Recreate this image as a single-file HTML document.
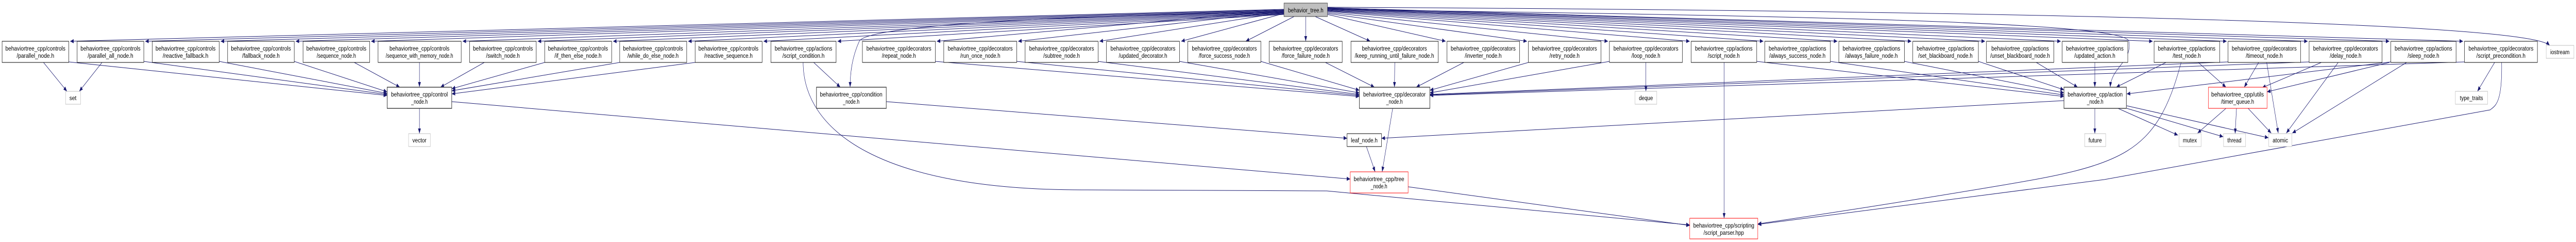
<!DOCTYPE html>
<html><head><meta charset="utf-8"><style>
html,body{margin:0;padding:0;background:#fff;width:100%;height:100%;overflow:hidden;}
svg{display:block;position:absolute;left:0;top:0;}
text{font-family:"Liberation Sans",sans-serif;font-size:12px;fill:#000;text-anchor:middle;}
.e{fill:none;stroke:#191970;stroke-width:1;marker-end:url(#a);}
.n{fill:#fff;stroke:#000;stroke-width:1;}
.g{fill:#fff;stroke:#bfbfbf;stroke-width:1;}
.r{fill:#fff;stroke:#ff0000;stroke-width:1;}
.d{fill:#fff;stroke:#404040;stroke-width:1.5;}
</style></head><body>
<svg width="100%" height="100%" viewBox="0 0 7345 469" preserveAspectRatio="none" xmlns="http://www.w3.org/2000/svg">
<defs><marker id="a" markerWidth="10" markerHeight="8" refX="10" refY="4" orient="auto" markerUnits="userSpaceOnUse"><path d="M0,0 L10,4 L0,8 z" fill="#191970"/></marker></defs>

<g>
<path class="e" d="M3661,18 L200,80"/>
<path class="e" d="M3661,19 L414,80"/>
<path class="e" d="M3661,20 L629,80"/>
<path class="e" d="M3661,21 L843,80"/>
<path class="e" d="M3661,22 L1058,80"/>
<path class="e" d="M3661,23 L1319,80"/>
<path class="e" d="M3661,24 L1533,80"/>
<path class="e" d="M3661,25 L1748,80"/>
<path class="e" d="M3661,26 L1962,80"/>
<path class="e" d="M3661,27 L2177,80"/>
<path class="e" d="M3661,28 L2388,80"/>
<path class="e" d="M3661,24 C3000,30 2470,50 2450,80 S2424,140 2424,169"/>
<path class="e" d="M3661,20 L2671,80"/>
<path class="e" d="M3661,22 L2903,80"/>
<path class="e" d="M3661,24 L3135,80"/>
<path class="e" d="M3661,26 L3368,80"/>
<path class="e" d="M3690,32 L3552,80"/>
<path class="e" d="M3723,32 L3723,80"/>
<path class="e" d="M3750,32 L3907,80"/>
<path class="e" d="M3785,28 L4122,80"/>
<path class="e" d="M3785,26 L4354,80"/>
<path class="e" d="M3785,24 L4585,80"/>
<path class="e" d="M3785,22 L4818,80"/>
<path class="e" d="M3785,21 L5028,80"/>
<path class="e" d="M3785,20 L5239,80"/>
<path class="e" d="M3785,19 L5450,80"/>
<path class="e" d="M3785,18 L5660,80"/>
<path class="e" d="M3785,17 L5876,80"/>
<path class="e" d="M3785,18 C5000,30 6060,40 6070,80 S6020,130 6017,169"/>
<path class="e" d="M3785,17 L6138,80"/>
<path class="e" d="M3785,16 L6349,80"/>
<path class="e" d="M3785,16 L6580,80"/>
<path class="e" d="M3785,15 L6813,80"/>
<path class="e" d="M3785,15 L7023,80"/>
<path class="e" d="M3785,14 C5500,20 7200,40 7270,88"/>
</g>

<g>
<path class="e" d="M124,121 L191,177"/>
<path class="e" d="M291,121 L226,177"/>
<path class="e" d="M196,120 L1104,185"/>
<path class="e" d="M410,119 L1104,183"/>
<path class="e" d="M625,119 L1104,181"/>
<path class="e" d="M839,119 L1104,178"/>
<path class="e" d="M1010,121 L1140,169"/>
<path class="e" d="M1196,121 L1196,169"/>
<path class="e" d="M1381,121 L1256,169"/>
<path class="e" d="M1553,121 L1288,172"/>
<path class="e" d="M1767,121 L1288,176"/>
<path class="e" d="M1982,121 L1288,182"/>
<path class="e" d="M1196,210 L1196,259"/>
<path class="e" d="M1288,197 L3850,347"/>
<path class="e" d="M2320,121 L2396,169"/>
<path class="e" d="M2290,121 C2290,250 2500,370 3100,368 L3783,370 L4818,436"/>
<path class="e" d="M2527,197 L3841,268"/>
</g>

<g>
<path class="e" d="M2667,119 L3876,187"/>
<path class="e" d="M2899,119 L3876,185"/>
<path class="e" d="M3131,119 L3876,183"/>
<path class="e" d="M3363,119 L3876,180"/>
<path class="e" d="M3595,119 L3876,175"/>
<path class="e" d="M3779,121 L3919,169"/>
<path class="e" d="M3977,121 L3976,169"/>
<path class="e" d="M4174,121 L4038,169"/>
<path class="e" d="M4358,121 L4077,175"/>
<path class="e" d="M4589,119 L4077,180"/>
<path class="e" d="M4693,121 L4693,177"/>
<path class="e" d="M6353,120 L4077,183"/>
<path class="e" d="M6584,120 L4077,184"/>
<path class="e" d="M7027,120 L4077,185"/>
<path class="e" d="M3971,210 L3941,333"/>
<path class="e" d="M3896,284 L3921,333"/>
<path class="e" d="M4015,362 L4818,437"/>
</g>

<g>
<path class="e" d="M4916,121 L4916,423"/>
<path class="e" d="M5009,119 L5885,187"/>
<path class="e" d="M5219,119 L5885,184"/>
<path class="e" d="M5430,119 L5885,180"/>
<path class="e" d="M5641,119 L5885,174"/>
<path class="e" d="M5806,121 L5924,169"/>
<path class="e" d="M5973,121 L5973,169"/>
<path class="e" d="M6176,121 L6034,169"/>
<path class="e" d="M6817,120 L6064,182"/>
<path class="e" d="M5885,195 L3939,268"/>
<path class="e" d="M5973,210 L5973,259"/>
<path class="e" d="M6039,210 L6210,262"/>
<path class="e" d="M6064,210 L6339,265"/>
<path class="e" d="M6064,205 L6468,267"/>
<path class="e" d="M6219,121 C6150,300 6050,320 5700,360 S5100,425 5012,434"/>
<path class="e" d="M7133,121 C7135,200 7115,205 7100,213 L6000,348 L5012,435"/>
<path class="e" d="M6268,121 L6347,169"/>
<path class="e" d="M6440,121 L6399,169"/>
<path class="e" d="M6463,121 L6496,258"/>
<path class="e" d="M6619,121 L6450,170"/>
<path class="e" d="M6667,121 L6519,258"/>
<path class="e" d="M6813,121 L6464,178"/>
<path class="e" d="M6862,121 L6536,258"/>
<path class="e" d="M7113,121 L7064,177"/>
<path class="e" d="M6347,210 L6266,258"/>
<path class="e" d="M6377,210 L6373,259"/>
<path class="e" d="M6410,210 L6476,258"/>
</g>

<rect x="3661" y="6" width="124" height="26" fill="#bfbfbf" stroke="#404040"/>
<text x="3723" y="24" textLength="101" lengthAdjust="spacingAndGlyphs">behavior_tree.h</text>

<g>
<rect class="n" x="6" y="80" width="190" height="41"/><text x="101" y="98" textLength="171" lengthAdjust="spacingAndGlyphs">behaviortree_cpp/controls</text><text x="101" y="112" textLength="107" lengthAdjust="spacingAndGlyphs">/parallel_node.h</text>
<rect class="n" x="220" y="80" width="190" height="41"/><text x="315" y="98" textLength="171" lengthAdjust="spacingAndGlyphs">behaviortree_cpp/controls</text><text x="315" y="112" textLength="130" lengthAdjust="spacingAndGlyphs">/parallel_all_node.h</text>
<rect class="n" x="434" y="80" width="191" height="41"/><text x="529" y="98" textLength="171" lengthAdjust="spacingAndGlyphs">behaviortree_cpp/controls</text><text x="529" y="112" textLength="130" lengthAdjust="spacingAndGlyphs">/reactive_fallback.h</text>
<rect class="n" x="649" y="80" width="190" height="41"/><text x="744" y="98" textLength="171" lengthAdjust="spacingAndGlyphs">behaviortree_cpp/controls</text><text x="744" y="112" textLength="107" lengthAdjust="spacingAndGlyphs">/fallback_node.h</text>
<rect class="n" x="864" y="80" width="190" height="41"/><text x="959" y="98" textLength="171" lengthAdjust="spacingAndGlyphs">behaviortree_cpp/controls</text><text x="959" y="112" textLength="112" lengthAdjust="spacingAndGlyphs">/sequence_node.h</text>
<rect class="n" x="1078" y="80" width="237" height="41"/><text x="1196" y="98" textLength="171" lengthAdjust="spacingAndGlyphs">behaviortree_cpp/controls</text><text x="1196" y="112" textLength="192" lengthAdjust="spacingAndGlyphs">/sequence_with_memory_node.h</text>
<rect class="n" x="1339" y="80" width="190" height="41"/><text x="1434" y="98" textLength="171" lengthAdjust="spacingAndGlyphs">behaviortree_cpp/controls</text><text x="1434" y="112" textLength="96" lengthAdjust="spacingAndGlyphs">/switch_node.h</text>
<rect class="n" x="1553" y="80" width="191" height="41"/><text x="1648" y="98" textLength="171" lengthAdjust="spacingAndGlyphs">behaviortree_cpp/controls</text><text x="1648" y="112" textLength="134" lengthAdjust="spacingAndGlyphs">/if_then_else_node.h</text>
<rect class="n" x="1767" y="80" width="191" height="41"/><text x="1862" y="98" textLength="171" lengthAdjust="spacingAndGlyphs">behaviortree_cpp/controls</text><text x="1862" y="112" textLength="146" lengthAdjust="spacingAndGlyphs">/while_do_else_node.h</text>
<rect class="n" x="1982" y="80" width="191" height="41"/><text x="2077" y="98" textLength="171" lengthAdjust="spacingAndGlyphs">behaviortree_cpp/controls</text><text x="2077" y="112" textLength="138" lengthAdjust="spacingAndGlyphs">/reactive_sequence.h</text>
<rect class="n" x="2198" y="80" width="186" height="41"/><text x="2291" y="98" textLength="164" lengthAdjust="spacingAndGlyphs">behaviortree_cpp/actions</text><text x="2291" y="112" textLength="120" lengthAdjust="spacingAndGlyphs">/script_condition.h</text>
<rect class="n" x="2459" y="80" width="208" height="41"/><text x="2563" y="98" textLength="185" lengthAdjust="spacingAndGlyphs">behaviortree_cpp/decorators</text><text x="2563" y="112" textLength="97" lengthAdjust="spacingAndGlyphs">/repeat_node.h</text>
<rect class="n" x="2691" y="80" width="208" height="41"/><text x="2795" y="98" textLength="185" lengthAdjust="spacingAndGlyphs">behaviortree_cpp/decorators</text><text x="2795" y="112" textLength="114" lengthAdjust="spacingAndGlyphs">/run_once_node.h</text>
<rect class="n" x="2923" y="80" width="208" height="41"/><text x="3027" y="98" textLength="185" lengthAdjust="spacingAndGlyphs">behaviortree_cpp/decorators</text><text x="3027" y="112" textLength="104" lengthAdjust="spacingAndGlyphs">/subtree_node.h</text>
<rect class="n" x="3155" y="80" width="208" height="41"/><text x="3259" y="98" textLength="185" lengthAdjust="spacingAndGlyphs">behaviortree_cpp/decorators</text><text x="3259" y="112" textLength="138" lengthAdjust="spacingAndGlyphs">/updated_decorator.h</text>
<rect class="n" x="3387" y="80" width="208" height="41"/><text x="3491" y="98" textLength="185" lengthAdjust="spacingAndGlyphs">behaviortree_cpp/decorators</text><text x="3491" y="112" textLength="146" lengthAdjust="spacingAndGlyphs">/force_success_node.h</text>
<rect class="n" x="3619" y="80" width="208" height="41"/><text x="3723" y="98" textLength="185" lengthAdjust="spacingAndGlyphs">behaviortree_cpp/decorators</text><text x="3723" y="112" textLength="137" lengthAdjust="spacingAndGlyphs">/force_failure_node.h</text>
<rect class="n" x="3852" y="80" width="249" height="41"/><text x="3976" y="98" textLength="185" lengthAdjust="spacingAndGlyphs">behaviortree_cpp/decorators</text><text x="3976" y="112" textLength="226" lengthAdjust="spacingAndGlyphs">/keep_running_until_failure_node.h</text>
<rect class="n" x="4126" y="80" width="207" height="41"/><text x="4229" y="98" textLength="185" lengthAdjust="spacingAndGlyphs">behaviortree_cpp/decorators</text><text x="4229" y="112" textLength="105" lengthAdjust="spacingAndGlyphs">/inverter_node.h</text>
<rect class="n" x="4358" y="80" width="207" height="41"/><text x="4461" y="98" textLength="185" lengthAdjust="spacingAndGlyphs">behaviortree_cpp/decorators</text><text x="4461" y="112" textLength="86" lengthAdjust="spacingAndGlyphs">/retry_node.h</text>
<rect class="n" x="4589" y="80" width="208" height="41"/><text x="4693" y="98" textLength="185" lengthAdjust="spacingAndGlyphs">behaviortree_cpp/decorators</text><text x="4693" y="112" textLength="82" lengthAdjust="spacingAndGlyphs">/loop_node.h</text>
<rect class="n" x="4822" y="80" width="187" height="41"/><text x="4915" y="98" textLength="164" lengthAdjust="spacingAndGlyphs">behaviortree_cpp/actions</text><text x="4915" y="112" textLength="91" lengthAdjust="spacingAndGlyphs">/script_node.h</text>
<rect class="n" x="5032" y="80" width="187" height="41"/><text x="5125" y="98" textLength="164" lengthAdjust="spacingAndGlyphs">behaviortree_cpp/actions</text><text x="5125" y="112" textLength="160" lengthAdjust="spacingAndGlyphs">/always_success_node.h</text>
<rect class="n" x="5243" y="80" width="187" height="41"/><text x="5336" y="98" textLength="164" lengthAdjust="spacingAndGlyphs">behaviortree_cpp/actions</text><text x="5336" y="112" textLength="150" lengthAdjust="spacingAndGlyphs">/always_failure_node.h</text>
<rect class="n" x="5454" y="80" width="187" height="41"/><text x="5547" y="98" textLength="164" lengthAdjust="spacingAndGlyphs">behaviortree_cpp/actions</text><text x="5547" y="112" textLength="155" lengthAdjust="spacingAndGlyphs">/set_blackboard_node.h</text>
<rect class="n" x="5664" y="80" width="192" height="41"/><text x="5760" y="98" textLength="164" lengthAdjust="spacingAndGlyphs">behaviortree_cpp/actions</text><text x="5760" y="112" textLength="170" lengthAdjust="spacingAndGlyphs">/unset_blackboard_node.h</text>
<rect class="n" x="5880" y="80" width="187" height="41"/><text x="5973" y="98" textLength="164" lengthAdjust="spacingAndGlyphs">behaviortree_cpp/actions</text><text x="5973" y="112" textLength="117" lengthAdjust="spacingAndGlyphs">/updated_action.h</text>
<rect class="n" x="6142" y="80" width="187" height="41"/><text x="6235" y="98" textLength="164" lengthAdjust="spacingAndGlyphs">behaviortree_cpp/actions</text><text x="6235" y="112" textLength="80" lengthAdjust="spacingAndGlyphs">/test_node.h</text>
<rect class="n" x="6353" y="80" width="207" height="41"/><text x="6456" y="98" textLength="185" lengthAdjust="spacingAndGlyphs">behaviortree_cpp/decorators</text><text x="6456" y="112" textLength="105" lengthAdjust="spacingAndGlyphs">/timeout_node.h</text>
<rect class="n" x="6584" y="80" width="208" height="41"/><text x="6688" y="98" textLength="185" lengthAdjust="spacingAndGlyphs">behaviortree_cpp/decorators</text><text x="6688" y="112" textLength="90" lengthAdjust="spacingAndGlyphs">/delay_node.h</text>
<rect class="n" x="6817" y="80" width="186" height="41"/><text x="6910" y="98" textLength="164" lengthAdjust="spacingAndGlyphs">behaviortree_cpp/actions</text><text x="6910" y="112" textLength="90" lengthAdjust="spacingAndGlyphs">/sleep_node.h</text>
<rect class="n" x="7027" y="80" width="208" height="41"/><text x="7131" y="98" textLength="185" lengthAdjust="spacingAndGlyphs">behaviortree_cpp/decorators</text><text x="7131" y="112" textLength="140" lengthAdjust="spacingAndGlyphs">/script_precondition.h</text>
<rect class="g" x="7260" y="88" width="79" height="25"/><text x="7299" y="105" textLength="55" lengthAdjust="spacingAndGlyphs">iostream</text>
</g>

<g>
<rect class="g" x="187" y="177" width="43" height="25"/><text x="208" y="194" textLength="20" lengthAdjust="spacingAndGlyphs">set</text>
<rect class="d" x="1104" y="169" width="184" height="41"/><text x="1196" y="187" textLength="162" lengthAdjust="spacingAndGlyphs">behaviortree_cpp/control</text><text x="1196" y="201" textLength="47" lengthAdjust="spacingAndGlyphs">_node.h</text>
<rect class="d" x="2328" y="169" width="199" height="41"/><text x="2427" y="187" textLength="178" lengthAdjust="spacingAndGlyphs">behaviortree_cpp/condition</text><text x="2427" y="201" textLength="47" lengthAdjust="spacingAndGlyphs">_node.h</text>
<rect class="d" x="3876" y="169" width="201" height="41"/><text x="3976" y="187" textLength="178" lengthAdjust="spacingAndGlyphs">behaviortree_cpp/decorator</text><text x="3976" y="201" textLength="47" lengthAdjust="spacingAndGlyphs">_node.h</text>
<rect class="g" x="4662" y="177" width="62" height="25"/><text x="4693" y="194" textLength="40" lengthAdjust="spacingAndGlyphs">deque</text>
<rect class="d" x="5885" y="169" width="178" height="41"/><text x="5974" y="187" textLength="157" lengthAdjust="spacingAndGlyphs">behaviortree_cpp/action</text><text x="5974" y="201" textLength="47" lengthAdjust="spacingAndGlyphs">_node.h</text>
<rect class="r" x="6297" y="169" width="167" height="41"/><text x="6380" y="187" textLength="150" lengthAdjust="spacingAndGlyphs">behaviortree_cpp/utils</text><text x="6380" y="201" textLength="94" lengthAdjust="spacingAndGlyphs">/timer_queue.h</text>
<rect class="g" x="7001" y="177" width="92" height="25"/><text x="7047" y="194" textLength="66" lengthAdjust="spacingAndGlyphs">type_traits</text>
</g>

<g>
<rect class="g" x="1165" y="259" width="62" height="25"/><text x="1196" y="276" textLength="40" lengthAdjust="spacingAndGlyphs">vector</text>
<rect class="n" x="3841" y="259" width="98" height="25"/><text x="3890" y="276" textLength="76" lengthAdjust="spacingAndGlyphs">leaf_node.h</text>
<rect class="g" x="5944" y="259" width="60" height="25"/><text x="5974" y="276" textLength="38" lengthAdjust="spacingAndGlyphs">future</text>
<rect class="g" x="6213" y="259" width="63" height="25"/><text x="6244" y="276" textLength="40" lengthAdjust="spacingAndGlyphs">mutex</text>
<rect class="g" x="6340" y="259" width="63" height="25"/><text x="6371" y="276" textLength="40" lengthAdjust="spacingAndGlyphs">thread</text>
<rect class="g" x="6469" y="259" width="66" height="25"/><text x="6502" y="276" textLength="44" lengthAdjust="spacingAndGlyphs">atomic</text>
<rect class="r" x="3850" y="333" width="165" height="41"/><text x="3932" y="351" textLength="144" lengthAdjust="spacingAndGlyphs">behaviortree_cpp/tree</text><text x="3932" y="365" textLength="47" lengthAdjust="spacingAndGlyphs">_node.h</text>
<rect class="r" x="4818" y="423" width="194" height="40"/><text x="4915" y="441" textLength="174" lengthAdjust="spacingAndGlyphs">behaviortree_cpp/scripting</text><text x="4915" y="455" textLength="115" lengthAdjust="spacingAndGlyphs">/script_parser.hpp</text>
</g>
</svg>
</body></html>
